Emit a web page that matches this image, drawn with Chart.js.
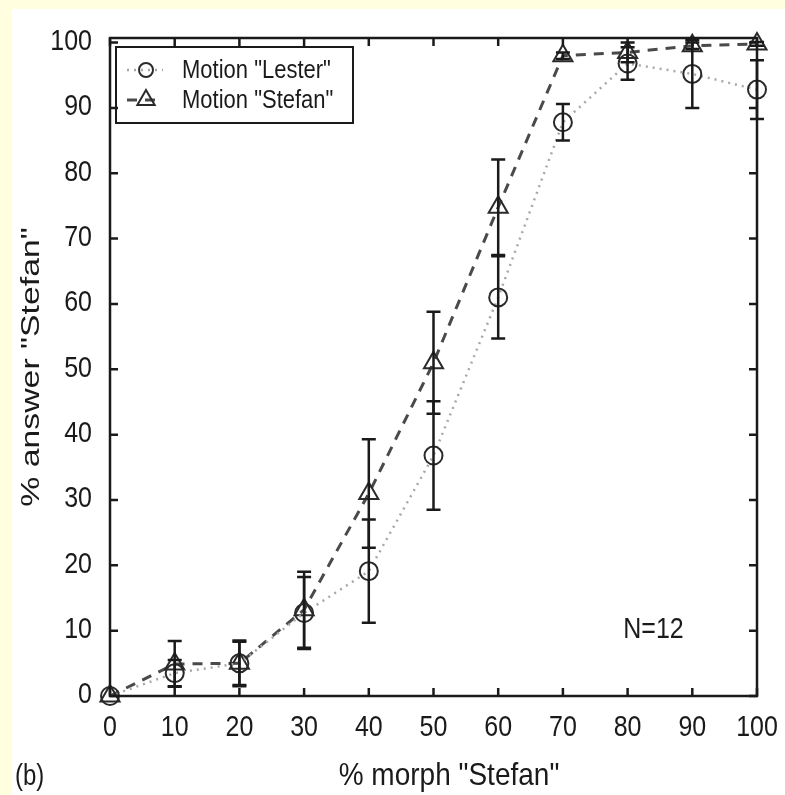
<!DOCTYPE html>
<html>
<head>
<meta charset="utf-8">
<script src="https://cdn.jsdelivr.net/npm/chart.js@4.4.0/dist/chart.umd.min.js"></script>
<style>
  html, body { margin: 0; padding: 0; background: #ffffe0; overflow: hidden; }
  #wrap { position: absolute; left: 12px; top: 9px; width: 773px; height: 786px; background: #fff; }
</style>
</head>
<body>
<div id="wrap"><canvas id="morphChart" width="773" height="786"></canvas></div>
<script>
const morphLevels = [0, 10, 20, 30, 40, 50, 60, 70, 80, 90, 100];
const lesterAnswers = [0, 3.5, 5, 12.7, 19.1, 36.8, 61, 87.8, 96.8, 95.2, 92.8];
const lesterErrors = [0, 2, 3.3, 5.5, 7.9, 8.3, 6.3, 2.8, 2.5, 5.2, 4.5];
const stefanAnswers = [0, 4.9, 5, 13.2, 31, 51, 74.8, 98, 98.5, 99.5, 99.8];
const stefanErrors = [0, 3.5, 3.5, 5.8, 8.3, 7.8, 7.3, 0.5, 1.5, 0.5, 0.3];
const xTickValues = [0, 10, 20, 30, 40, 50, 60, 70, 80, 90, 100];
const yTickValues = [0, 10, 20, 30, 40, 50, 60, 70, 80, 90, 100];

const fontFamily = '"Liberation Sans", Arial, sans-serif';
const ink = '#1a1a1a';

function points(values) {
    return morphLevels.map((x, i) => ({ x: x, y: values[i] }));
}

// gnuplot's postscript text comes out tall and narrow, so stretch it vertically
function tallText(ctx, str, x, y, size, align, stretch) {
    ctx.save();
    ctx.translate(x, y);
    ctx.scale(1, stretch || 1.2);
    ctx.font = size + 'px ' + fontFamily;
    ctx.textAlign = align;
    ctx.textBaseline = 'middle';
    ctx.fillStyle = ink;
    ctx.fillText(str, 0, 0);
    ctx.restore();
}

// frame, inward ticks, labels, error bars and key in gnuplot style
const gnuplotDecor = {
    id: 'gnuplotDecor',
    afterDatasetsDraw(chart) {
        const ctx = chart.ctx;
        const area = chart.chartArea;
        const xs = chart.scales.x;
        const ys = chart.scales.y;

        ctx.save();
        ctx.strokeStyle = ink;
        ctx.lineCap = 'butt';

        // error bars
        ctx.lineWidth = 2.5;
        const bars = [[lesterAnswers, lesterErrors], [stefanAnswers, stefanErrors]];
        bars.forEach(([vals, errs]) => {
            vals.forEach((v, i) => {
                if (!errs[i]) return;
                const px = xs.getPixelForValue(morphLevels[i]);
                const top = ys.getPixelForValue(Math.min(v + errs[i], ys.max));
                const bot = ys.getPixelForValue(v - errs[i]);
                ctx.beginPath();
                ctx.moveTo(px, top);
                ctx.lineTo(px, bot);
                ctx.moveTo(px - 7, top);
                ctx.lineTo(px + 7, top);
                ctx.moveTo(px - 7, bot);
                ctx.lineTo(px + 7, bot);
                ctx.stroke();
            });
        });

        // frame with mirrored inward ticks
        ctx.strokeRect(area.left, area.top, area.right - area.left, area.bottom - area.top);
        const tl = 8;
        ctx.beginPath();
        xTickValues.forEach(v => {
            const px = xs.getPixelForValue(v);
            ctx.moveTo(px, area.bottom);
            ctx.lineTo(px, area.bottom - tl);
            ctx.moveTo(px, area.top);
            ctx.lineTo(px, area.top + tl);
        });
        yTickValues.forEach(v => {
            const py = ys.getPixelForValue(v);
            ctx.moveTo(area.left, py);
            ctx.lineTo(area.left + tl, py);
            ctx.moveTo(area.right, py);
            ctx.lineTo(area.right - tl, py);
        });
        ctx.stroke();

        // tick labels
        xTickValues.forEach(v => {
            tallText(ctx, String(v), xs.getPixelForValue(v), area.bottom + 32, 25, 'center');
        });
        yTickValues.forEach(v => {
            tallText(ctx, String(v), area.left - 18, ys.getPixelForValue(v) - 1, 25, 'right');
        });

        // key
        const lx = area.left + 6, ly = area.top + 9;
        ctx.lineWidth = 2;
        ctx.strokeRect(lx, ly, 237, 76);
        const rows = [
            { ds: chart.data.datasets[0], y: ly + 23 },
            { ds: chart.data.datasets[1], y: ly + 53 }
        ];
        rows.forEach(r => {
            ctx.save();
            ctx.strokeStyle = r.ds.borderColor;
            ctx.lineWidth = r.ds.borderWidth;
            ctx.setLineDash(r.ds.borderDash);
            ctx.beginPath();
            ctx.moveTo(lx + 11, r.y);
            ctx.lineTo(lx + 47, r.y);
            ctx.stroke();
            ctx.restore();
            ctx.save();
            ctx.strokeStyle = r.ds.pointBorderColor;
            ctx.fillStyle = 'rgba(0,0,0,0)';
            ctx.lineWidth = r.ds.pointBorderWidth;
            Chart.helpers.drawPoint(ctx, {
                pointStyle: r.ds.pointStyle,
                radius: r.ds.pointStyle === 'triangle' ? 10 : 7,
                rotation: 0,
                borderWidth: r.ds.pointBorderWidth
            }, lx + 30, r.y);
            ctx.restore();
            tallText(ctx, r.ds.label, lx + 66, r.y + 1, 22, 'left');
        });

        // annotation and panel tag
        tallText(ctx, 'N=12', xs.getPixelForValue(84), ys.getPixelForValue(10) - 1, 25, 'center');
        tallText(ctx, '(b)', 3, 768, 24, 'left', 1.25);

        // axis titles
        tallText(ctx, '% morph "Stefan"', 437, 768, 28, 'center', 1.1);
        ctx.save();
        ctx.translate(20, (area.top + area.bottom) / 2);
        ctx.rotate(-Math.PI / 2);
        ctx.scale(1.3, 1);
        ctx.font = '26px ' + fontFamily;
        ctx.textAlign = 'center';
        ctx.textBaseline = 'middle';
        ctx.fillStyle = ink;
        ctx.fillText('% answer "Stefan"', 0, 0);
        ctx.restore();

        ctx.restore();
    }
};

const ctx = document.getElementById('morphChart').getContext('2d');

const chart = new Chart(ctx, {
    type: 'line',
    data: {
        datasets: [{
            label: 'Motion "Lester"',
            data: points(lesterAnswers),
            borderColor: '#a8a8a8',
            borderDash: [2, 5],
            borderWidth: 2.5,
            pointStyle: 'circle',
            pointRadius: 9,
            pointBorderColor: '#2a2a2a',
            pointBackgroundColor: 'rgba(0,0,0,0)',
            pointBorderWidth: 2,
            tension: 0
        }, {
            label: 'Motion "Stefan"',
            data: points(stefanAnswers),
            borderColor: '#4a4a4a',
            borderDash: [10, 8],
            borderWidth: 3,
            pointStyle: 'triangle',
            pointRadius: 11,
            pointBorderColor: '#2a2a2a',
            pointBackgroundColor: 'rgba(0,0,0,0)',
            pointBorderWidth: 2,
            tension: 0
        }]
    },
    options: {
        responsive: false,
        devicePixelRatio: 1,
        animation: false,
        clip: false,
        layout: { padding: { top: 29, right: 28, left: 0, bottom: 0 } },
        plugins: {
            legend: { display: false },
            tooltip: { enabled: false }
        },
        scales: {
            x: {
                type: 'linear',
                min: 0,
                max: 100,
                afterBuildTicks: scale => { scale.ticks = xTickValues.map(v => ({ value: v })); },
                afterFit: scale => { scale.height = 99; },
                grid: { display: false, drawTicks: false },
                border: { display: false },
                ticks: { display: false }
            },
            y: {
                type: 'linear',
                min: 0,
                max: 100.7,
                afterBuildTicks: scale => { scale.ticks = yTickValues.map(v => ({ value: v })); },
                afterFit: scale => { scale.width = 98; },
                grid: { display: false, drawTicks: false },
                border: { display: false },
                ticks: { display: false }
            }
        }
    },
    plugins: [gnuplotDecor]
});
</script>
</body>
</html>
